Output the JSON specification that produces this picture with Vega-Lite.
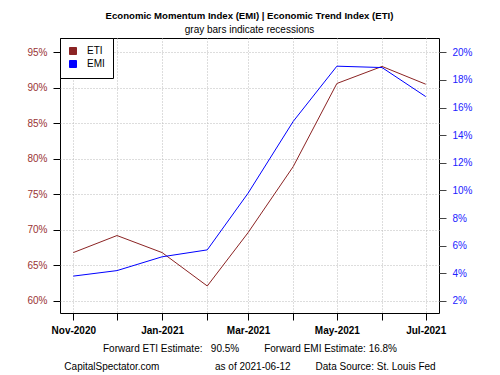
{
  "$schema": "https://vega.github.io/schema/vega-lite/v6.json",
  "width": 379,
  "height": 275,
  "autosize": {"type": "none"},
  "padding": {"left": 60, "top": 38, "right": 61, "bottom": 62},
  "background": "white",
  "title": {
    "text": "Economic Momentum Index (EMI) | Economic Trend Index (ETI)",
    "subtitle": "gray bars indicate recessions",
    "anchor": "middle",
    "font": "Liberation Sans",
    "fontSize": 9.6,
    "fontWeight": "bold",
    "color": "black",
    "subtitleFont": "Liberation Sans",
    "subtitleFontSize": 10,
    "subtitleColor": "black",
    "offset": 3,
    "subtitlePadding": 4
  },
  "config": {
    "font": "Liberation Sans",
    "view": {"stroke": "black", "strokeWidth": 1}
  },
  "data": {
    "values": [
      {"date": "2020-11-01", "series": "ETI", "value": 66.8},
      {"date": "2020-12-01", "series": "ETI", "value": 69.2},
      {"date": "2021-01-01", "series": "ETI", "value": 66.8},
      {"date": "2021-02-01", "series": "ETI", "value": 62.1},
      {"date": "2021-03-01", "series": "ETI", "value": 69.6},
      {"date": "2021-04-01", "series": "ETI", "value": 78.9},
      {"date": "2021-05-01", "series": "ETI", "value": 90.6},
      {"date": "2021-06-01", "series": "ETI", "value": 93.0},
      {"date": "2021-07-01", "series": "ETI", "value": 90.5},
      {"date": "2020-11-01", "series": "EMI", "value": 3.8},
      {"date": "2020-12-01", "series": "EMI", "value": 4.2},
      {"date": "2021-01-01", "series": "EMI", "value": 5.2},
      {"date": "2021-02-01", "series": "EMI", "value": 5.7},
      {"date": "2021-03-01", "series": "EMI", "value": 9.8},
      {"date": "2021-04-01", "series": "EMI", "value": 15.0},
      {"date": "2021-05-01", "series": "EMI", "value": 19.0},
      {"date": "2021-06-01", "series": "EMI", "value": 18.9},
      {"date": "2021-07-01", "series": "EMI", "value": 16.8}
    ]
  },
  "encoding": {
    "x": {
      "field": "date",
      "type": "temporal",
      "scale": {
        "type": "utc",
        "domain": [
          {"year": 2020, "month": 10, "date": 22, "hours": 21, "utc": true},
          {"year": 2021, "month": 7, "date": 10, "hours": 3, "utc": true}
        ]
      },
      "axis": {
        "values": [
          {"year": 2020, "month": 11, "date": 1, "utc": true},
          {"year": 2020, "month": 12, "date": 1, "utc": true},
          {"year": 2021, "month": 1, "date": 1, "utc": true},
          {"year": 2021, "month": 2, "date": 1, "utc": true},
          {"year": 2021, "month": 3, "date": 1, "utc": true},
          {"year": 2021, "month": 4, "date": 1, "utc": true},
          {"year": 2021, "month": 5, "date": 1, "utc": true},
          {"year": 2021, "month": 6, "date": 1, "utc": true},
          {"year": 2021, "month": 7, "date": 1, "utc": true}
        ],
        "labelExpr": "utcmonth(datum.value) % 2 == 0 ? utcFormat(datum.value, '%b-%Y') : ''",
        "labelFlush": false,
        "labelOverlap": false,
        "labelFontWeight": "bold",
        "labelFontSize": 10,
        "labelColor": "black",
        "labelPadding": 5,
        "grid": true,
        "gridDash": [1, 2],
        "gridColor": "#bbbbbb",
        "domain": false,
        "tickColor": "black",
        "tickSize": 7,
        "title": [
          "\u00a0\u00a0\u00a0\u00a0Forward ETI Estimate:\u00a0\u00a0\u00a090.5%\u00a0\u00a0\u00a0\u00a0\u00a0\u00a0\u00a0\u00a0\u00a0Forward EMI Estimate: 16.8%",
          "CapitalSpectator.com\u00a0\u00a0\u00a0\u00a0\u00a0\u00a0\u00a0\u00a0\u00a0\u00a0\u00a0\u00a0\u00a0\u00a0\u00a0\u00a0\u00a0\u00a0\u00a0\u00a0as of 2021-06-12\u00a0\u00a0\u00a0\u00a0\u00a0\u00a0\u00a0\u00a0\u00a0Data Source: St. Louis Fed"
        ],
        "titleFontWeight": "normal",
        "titleFontSize": 10,
        "titleColor": "black",
        "titleLineHeight": 18,
        "titlePadding": 8
      }
    },
    "color": {
      "field": "series",
      "type": "nominal",
      "scale": {"domain": ["ETI", "EMI"], "range": ["#8B2323", "#0000FF"]},
      "legend": {
        "orient": "top-left",
        "offset": 0,
        "title": null,
        "padding": 8,
        "strokeColor": "black",
        "fillColor": "white",
        "symbolType": "square",
        "symbolSize": 49,
        "labelFontSize": 10,
        "labelColor": "black",
        "rowPadding": 1,
        "labelOffset": 9,
        "encode": {
          "symbols": {
            "update": {
              "fill": {"scale": "color", "field": "value"},
              "fillOpacity": {"value": 1},
              "stroke": {"value": "#666666"},
              "strokeWidth": {"value": 1}
            }
          }
        }
      }
    }
  },
  "layer": [
    {
      "transform": [{"filter": "datum.series === 'ETI'"}],
      "mark": {"type": "line", "strokeWidth": 1},
      "encoding": {
        "y": {
          "field": "value",
          "type": "quantitative",
          "scale": {"domain": [58.3, 97.0], "nice": false, "zero": false},
          "axis": {
            "values": [60, 65, 70, 75, 80, 85, 90, 95],
            "labelExpr": "datum.value + '%'",
            "labelColor": "#993333",
            "labelFontSize": 10,
            "labelPadding": 6,
            "grid": true,
            "gridDash": [1, 2],
            "gridColor": "#bbbbbb",
            "domain": false,
            "tickColor": "black",
            "tickSize": 7,
            "title": null
          }
        }
      }
    },
    {
      "transform": [{"filter": "datum.series === 'EMI'"}],
      "mark": {"type": "line", "strokeWidth": 1},
      "encoding": {
        "y": {
          "field": "value",
          "type": "quantitative",
          "scale": {"domain": [1.13, 21.04], "nice": false, "zero": false},
          "axis": {
            "orient": "right",
            "values": [2, 4, 6, 8, 10, 12, 14, 16, 18, 20],
            "labelExpr": "datum.value + '%'",
            "labelColor": "#2222ff",
            "labelFontSize": 10,
            "labelPadding": 6,
            "grid": false,
            "domain": false,
            "tickColor": "#444444",
            "tickSize": 7,
            "title": null
          }
        }
      }
    }
  ],
  "resolve": {"scale": {"y": "independent"}}
}
